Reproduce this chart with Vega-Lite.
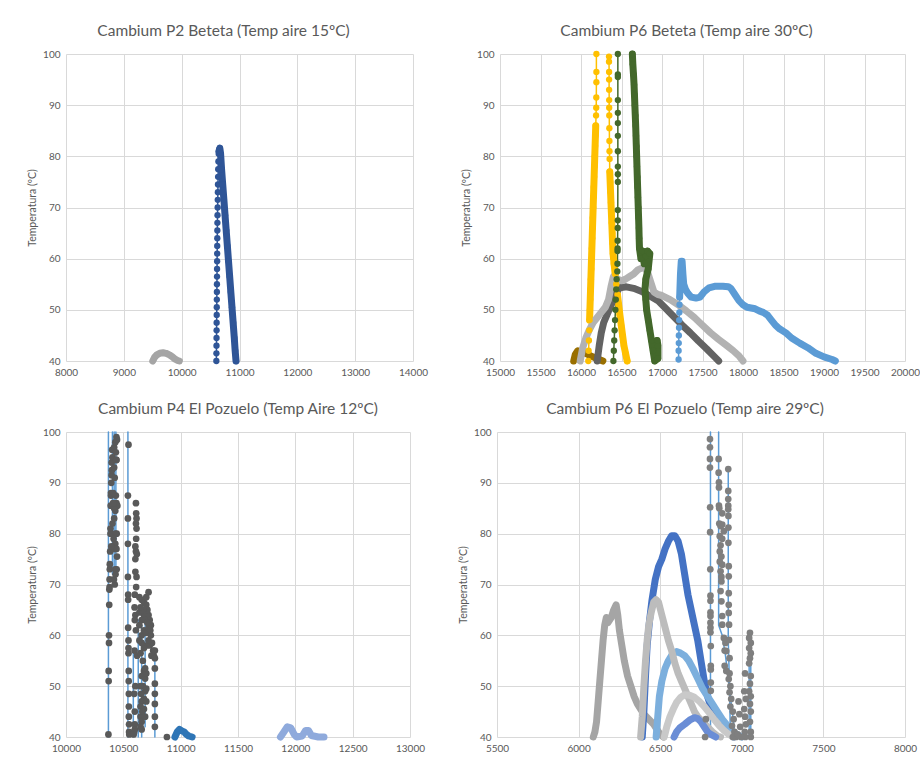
{
"$schema": "https://vega.github.io/schema/vega-lite/v6.json",
"background": "white",
"padding": {"left": 27, "top": 23, "right": 0, "bottom": 0},
"config": {
  "font": "Lato",
  "view": {"stroke": null},
  "axis": {"grid": true, "gridColor": "#d9d9d9", "gridWidth": 1, "domain": false, "ticks": false, "labelColor": "#595959", "labelFontSize": 10, "titleColor": "#595959", "titleFontSize": 10.5, "titleFontWeight": "normal", "labelPadding": 6, "titlePadding": 5, "labelFlush": false, "labelOverlap": false},
  "title": {"fontSize": 15.5, "fontWeight": "normal", "color": "#595959", "offset": 10},
  "line": {"strokeCap": "round", "strokeJoin": "round"}
},
"datasets": {
"p1": [
{"s":"g","x":9500,"y":40},{"s":"g","x":9530,"y":40.7},{"s":"g","x":9570,"y":41.2},{"s":"g","x":9620,"y":41.5},{"s":"g","x":9680,"y":41.6},{"s":"g","x":9730,"y":41.5},{"s":"g","x":9790,"y":41.2},{"s":"g","x":9840,"y":40.8},{"s":"g","x":9880,"y":40.4},{"s":"g","x":9930,"y":40.1},{"s":"g","x":9960,"y":40},
{"s":"b1","x":10600,"y":40},{"s":"b1","x":10601,"y":41.5},{"s":"b1","x":10602,"y":43},{"s":"b1","x":10603,"y":44.5},{"s":"b1","x":10604,"y":46},{"s":"b1","x":10605,"y":47.5},{"s":"b1","x":10606,"y":49},{"s":"b1","x":10607,"y":50.5},{"s":"b1","x":10608,"y":52},{"s":"b1","x":10609,"y":53.5},{"s":"b1","x":10610,"y":55},{"s":"b1","x":10611,"y":56.5},{"s":"b1","x":10612,"y":58},{"s":"b1","x":10613,"y":59.5},{"s":"b1","x":10614,"y":61},{"s":"b1","x":10615,"y":62.5},{"s":"b1","x":10616,"y":64},{"s":"b1","x":10617,"y":65.5},{"s":"b1","x":10618,"y":67},{"s":"b1","x":10620,"y":68.5},{"s":"b1","x":10622,"y":70},{"s":"b1","x":10624,"y":71.5},{"s":"b1","x":10626,"y":73},{"s":"b1","x":10628,"y":74.5},{"s":"b1","x":10630,"y":76},{"s":"b1","x":10632,"y":77.5},{"s":"b1","x":10635,"y":79},{"s":"b1","x":10640,"y":80.5},{"s":"b1","x":10650,"y":81.3},
{"s":"b2","x":10645,"y":81},{"s":"b2","x":10660,"y":81.6},{"s":"b2","x":10673,"y":80.5},{"s":"b2","x":10690,"y":77.5},{"s":"b2","x":10710,"y":74.5},{"s":"b2","x":10730,"y":71.5},{"s":"b2","x":10750,"y":68.5},{"s":"b2","x":10770,"y":65.5},{"s":"b2","x":10790,"y":62.5},{"s":"b2","x":10810,"y":59.5},{"s":"b2","x":10830,"y":56.5},{"s":"b2","x":10850,"y":53.5},{"s":"b2","x":10870,"y":50.5},{"s":"b2","x":10890,"y":47.5},{"s":"b2","x":10910,"y":44.5},{"s":"b2","x":10925,"y":42},{"s":"b2","x":10940,"y":40}
],
"p2": [
{"s":"br","x":15910,"y":40},{"s":"br","x":15930,"y":41.3},{"s":"br","x":15960,"y":42},{"s":"br","x":16000,"y":41.8},{"s":"br","x":16060,"y":41.5},{"s":"br","x":16120,"y":41},{"s":"br","x":16180,"y":40.6},{"s":"br","x":16240,"y":40.2},{"s":"br","x":16270,"y":40},
{"s":"y1","x":16190,"y":100},{"s":"y1","x":16190,"y":96.5},{"s":"y1","x":16190,"y":94.5},{"s":"y1","x":16189,"y":91.5},{"s":"y1","x":16188,"y":89.5},{"s":"y1","x":16186,"y":88},{"s":"y1","x":16182,"y":86},{"s":"y1","x":16178,"y":84},{"s":"y1","x":16174,"y":82},{"s":"y1","x":16170,"y":80},{"s":"y1","x":16166,"y":78},{"s":"y1","x":16162,"y":76},{"s":"y1","x":16158,"y":74},{"s":"y1","x":16154,"y":72},{"s":"y1","x":16150,"y":70},{"s":"y1","x":16146,"y":68},{"s":"y1","x":16142,"y":66},{"s":"y1","x":16138,"y":64},{"s":"y1","x":16134,"y":62},{"s":"y1","x":16130,"y":60},{"s":"y1","x":16126,"y":58},{"s":"y1","x":16122,"y":56},{"s":"y1","x":16118,"y":54},{"s":"y1","x":16114,"y":52},{"s":"y1","x":16110,"y":50},{"s":"y1","x":16106,"y":48},{"s":"y1","x":16102,"y":46},{"s":"y1","x":16098,"y":44},{"s":"y1","x":16094,"y":42},{"s":"y1","x":16090,"y":40},
{"s":"y1t","x":16182,"y":86},{"s":"y1t","x":16166,"y":78},{"s":"y1t","x":16150,"y":70},{"s":"y1t","x":16134,"y":62},{"s":"y1t","x":16118,"y":54},{"s":"y1t","x":16106,"y":48},
{"s":"y2","x":16346,"y":99.5},{"s":"y2","x":16346,"y":98.5},{"s":"y2","x":16347,"y":96.5},{"s":"y2","x":16347,"y":95},{"s":"y2","x":16347,"y":93},{"s":"y2","x":16348,"y":91},{"s":"y2","x":16348,"y":89.5},{"s":"y2","x":16349,"y":88},{"s":"y2","x":16350,"y":85.5},{"s":"y2","x":16351,"y":83},{"s":"y2","x":16352,"y":81},{"s":"y2","x":16353,"y":79.5},{"s":"y2","x":16355,"y":77},{"s":"y2","x":16360,"y":75},{"s":"y2","x":16365,"y":73},{"s":"y2","x":16370,"y":71},{"s":"y2","x":16375,"y":69},{"s":"y2","x":16380,"y":67},{"s":"y2","x":16385,"y":65},{"s":"y2","x":16390,"y":63},{"s":"y2","x":16395,"y":61},{"s":"y2","x":16405,"y":59},{"s":"y2","x":16420,"y":57},{"s":"y2","x":16435,"y":55},{"s":"y2","x":16450,"y":53},{"s":"y2","x":16465,"y":51},{"s":"y2","x":16480,"y":49},{"s":"y2","x":16495,"y":47},{"s":"y2","x":16510,"y":45},{"s":"y2","x":16530,"y":43},{"s":"y2","x":16550,"y":41.5},{"s":"y2","x":16570,"y":40},
{"s":"y2t","x":16355,"y":77},{"s":"y2t","x":16375,"y":69},{"s":"y2t","x":16395,"y":61},{"s":"y2t","x":16435,"y":55},{"s":"y2t","x":16480,"y":49},{"s":"y2t","x":16530,"y":43},{"s":"y2t","x":16570,"y":40},
{"s":"gt","x":16455,"y":100},{"s":"gt","x":16455,"y":96},{"s":"gt","x":16455,"y":95.5},{"s":"gt","x":16455,"y":91},{"s":"gt","x":16455,"y":88.5},{"s":"gt","x":16455,"y":86.5},{"s":"gt","x":16455,"y":84},{"s":"gt","x":16455,"y":81},{"s":"gt","x":16455,"y":78},{"s":"gt","x":16455,"y":76.5},{"s":"gt","x":16455,"y":75},{"s":"gt","x":16454,"y":69.5},{"s":"gt","x":16454,"y":67.5},{"s":"gt","x":16453,"y":66},{"s":"gt","x":16452,"y":63.5},{"s":"gt","x":16452,"y":62},{"s":"gt","x":16451,"y":61.5},{"s":"gt","x":16450,"y":59},{"s":"gt","x":16448,"y":57.5},{"s":"gt","x":16440,"y":56},{"s":"gt","x":16435,"y":54},{"s":"gt","x":16430,"y":52},{"s":"gt","x":16425,"y":50},{"s":"gt","x":16420,"y":48},{"s":"gt","x":16415,"y":46},{"s":"gt","x":16410,"y":44},{"s":"gt","x":16405,"y":42},{"s":"gt","x":16400,"y":40},
{"s":"dg","x":16200,"y":40},{"s":"dg","x":16225,"y":43},{"s":"dg","x":16250,"y":45.5},{"s":"dg","x":16280,"y":47.5},{"s":"dg","x":16320,"y":49},{"s":"dg","x":16360,"y":50.5},{"s":"dg","x":16400,"y":52},{"s":"dg","x":16440,"y":53.5},{"s":"dg","x":16480,"y":54.3},{"s":"dg","x":16560,"y":54.5},{"s":"dg","x":16650,"y":54.2},{"s":"dg","x":16750,"y":53.6},{"s":"dg","x":16850,"y":52.7},{"s":"dg","x":16950,"y":51.8},{"s":"dg","x":17050,"y":50.2},{"s":"dg","x":17150,"y":48.6},{"s":"dg","x":17250,"y":47},{"s":"dg","x":17350,"y":45.5},{"s":"dg","x":17450,"y":43.9},{"s":"dg","x":17550,"y":42.4},{"s":"dg","x":17650,"y":40.8},{"s":"dg","x":17700,"y":40},
{"s":"lg","x":15990,"y":40},{"s":"lg","x":16020,"y":42.5},{"s":"lg","x":16060,"y":44.5},{"s":"lg","x":16100,"y":46},{"s":"lg","x":16150,"y":47.5},{"s":"lg","x":16200,"y":48.5},{"s":"lg","x":16250,"y":49.5},{"s":"lg","x":16300,"y":50.5},{"s":"lg","x":16340,"y":52},{"s":"lg","x":16370,"y":54.5},{"s":"lg","x":16400,"y":56.5},{"s":"lg","x":16450,"y":56},{"s":"lg","x":16500,"y":55.7},{"s":"lg","x":16550,"y":56},{"s":"lg","x":16600,"y":56.5},{"s":"lg","x":16650,"y":57},{"s":"lg","x":16700,"y":57.8},{"s":"lg","x":16770,"y":58.3},{"s":"lg","x":16820,"y":57.5},{"s":"lg","x":16860,"y":55.5},{"s":"lg","x":16900,"y":53.5},{"s":"lg","x":16950,"y":53},{"s":"lg","x":17000,"y":52.8},{"s":"lg","x":17100,"y":52},{"s":"lg","x":17200,"y":51},{"s":"lg","x":17300,"y":49.8},{"s":"lg","x":17400,"y":48.5},{"s":"lg","x":17500,"y":47},{"s":"lg","x":17600,"y":45.5},{"s":"lg","x":17700,"y":44.2},{"s":"lg","x":17800,"y":43},{"s":"lg","x":17880,"y":42},{"s":"lg","x":17950,"y":41},{"s":"lg","x":18000,"y":40},
{"s":"lbd","x":17205,"y":40.3},{"s":"lbd","x":17205,"y":42},{"s":"lbd","x":17207,"y":43.5},{"s":"lbd","x":17208,"y":45},{"s":"lbd","x":17210,"y":46.5},{"s":"lbd","x":17212,"y":48},{"s":"lbd","x":17214,"y":49.5},{"s":"lbd","x":17216,"y":51},{"s":"lbd","x":17218,"y":52.5},
{"s":"lb","x":17218,"y":52.5},{"s":"lb","x":17228,"y":57},{"s":"lb","x":17238,"y":59.5},{"s":"lb","x":17248,"y":59.5},{"s":"lb","x":17258,"y":57},{"s":"lb","x":17268,"y":55},{"s":"lb","x":17290,"y":54},{"s":"lb","x":17320,"y":53.2},{"s":"lb","x":17360,"y":52.5},{"s":"lb","x":17420,"y":52.3},{"s":"lb","x":17470,"y":52.5},{"s":"lb","x":17520,"y":53.5},{"s":"lb","x":17580,"y":54.3},{"s":"lb","x":17650,"y":54.6},{"s":"lb","x":17750,"y":54.6},{"s":"lb","x":17820,"y":54.5},{"s":"lb","x":17850,"y":54.2},{"s":"lb","x":17900,"y":53},{"s":"lb","x":17950,"y":51.8},{"s":"lb","x":18000,"y":51},{"s":"lb","x":18050,"y":50.5},{"s":"lb","x":18150,"y":50.2},{"s":"lb","x":18200,"y":49.8},{"s":"lb","x":18250,"y":49.5},{"s":"lb","x":18300,"y":49},{"s":"lb","x":18350,"y":48},{"s":"lb","x":18400,"y":47},{"s":"lb","x":18450,"y":46.3},{"s":"lb","x":18530,"y":45.5},{"s":"lb","x":18600,"y":44.5},{"s":"lb","x":18700,"y":43.5},{"s":"lb","x":18800,"y":42.6},{"s":"lb","x":18900,"y":41.5},{"s":"lb","x":19000,"y":40.8},{"s":"lb","x":19100,"y":40.3},{"s":"lb","x":19140,"y":40},
{"s":"g2","x":16634,"y":100},{"s":"g2","x":16640,"y":98},{"s":"g2","x":16648,"y":96},{"s":"g2","x":16655,"y":94},{"s":"g2","x":16660,"y":92},{"s":"g2","x":16665,"y":90},{"s":"g2","x":16670,"y":88},{"s":"g2","x":16675,"y":86},{"s":"g2","x":16679,"y":84},{"s":"g2","x":16683,"y":82},{"s":"g2","x":16687,"y":80},{"s":"g2","x":16691,"y":78},{"s":"g2","x":16695,"y":76},{"s":"g2","x":16699,"y":74},{"s":"g2","x":16703,"y":72},{"s":"g2","x":16707,"y":70},{"s":"g2","x":16711,"y":68},{"s":"g2","x":16715,"y":66},{"s":"g2","x":16718,"y":64},{"s":"g2","x":16722,"y":62},{"s":"g2","x":16740,"y":60},{"s":"g2","x":16760,"y":61.5},{"s":"g2","x":16780,"y":59},{"s":"g2","x":16800,"y":60.5},{"s":"g2","x":16820,"y":61.5},{"s":"g2","x":16850,"y":61},{"s":"g2","x":16830,"y":58},{"s":"g2","x":16800,"y":56},{"s":"g2","x":16790,"y":54},{"s":"g2","x":16800,"y":52},{"s":"g2","x":16810,"y":50},{"s":"g2","x":16830,"y":48},{"s":"g2","x":16850,"y":46},{"s":"g2","x":16870,"y":44},{"s":"g2","x":16890,"y":42},{"s":"g2","x":16910,"y":40},{"s":"g2","x":16950,"y":40.5},{"s":"g2","x":16950,"y":43},{"s":"g2","x":16940,"y":44}
],
"p3": [
{"s":"v1","x":10370,"y":40},{"s":"v1","x":10370,"y":100},
{"s":"v2","x":10405,"y":72},{"s":"v2","x":10405,"y":100},
{"s":"v3","x":10420,"y":70},{"s":"v3","x":10420,"y":100},
{"s":"v4","x":10435,"y":73},{"s":"v4","x":10435,"y":100},
{"s":"v5","x":10540,"y":40},{"s":"v5","x":10540,"y":100},
{"s":"v6","x":10587,"y":40},{"s":"v6","x":10587,"y":57},
{"s":"v7","x":10630,"y":40},{"s":"v7","x":10630,"y":63},
{"s":"v8","x":10660,"y":40},{"s":"v8","x":10660,"y":62},
{"s":"v9","x":10690,"y":42},{"s":"v9","x":10690,"y":63},
{"s":"v10","x":10775,"y":40},{"s":"v10","x":10775,"y":57},
{"s":"bh","x":10950,"y":40},{"s":"bh","x":10970,"y":41},{"s":"bh","x":10990,"y":41.5},{"s":"bh","x":11010,"y":41.2},{"s":"bh","x":11030,"y":41},{"s":"bh","x":11050,"y":40.5},{"s":"bh","x":11070,"y":40.2},{"s":"bh","x":11100,"y":40},
{"s":"lbh","x":11870,"y":40},{"s":"lbh","x":11900,"y":41},{"s":"lbh","x":11930,"y":42},{"s":"lbh","x":11960,"y":41.8},{"s":"lbh","x":11990,"y":40.5},{"s":"lbh","x":12010,"y":40},{"s":"lbh","x":12060,"y":40.2},{"s":"lbh","x":12090,"y":41.3},{"s":"lbh","x":12115,"y":41.3},{"s":"lbh","x":12140,"y":40.3},{"s":"lbh","x":12200,"y":40},{"s":"lbh","x":12250,"y":40},
{"s":"gd","x":10370,"y":40.5},{"s":"gd","x":10372,"y":51},{"s":"gd","x":10372,"y":53},{"s":"gd","x":10375,"y":58.5},{"s":"gd","x":10375,"y":60},{"s":"gd","x":10377,"y":66},{"s":"gd","x":10378,"y":69},{"s":"gd","x":10380,"y":69.5},{"s":"gd","x":10380,"y":71},{"s":"gd","x":10382,"y":73},{"s":"gd","x":10382,"y":74},{"s":"gd","x":10385,"y":76.5},{"s":"gd","x":10388,"y":80},{"s":"gd","x":10388,"y":81},{"s":"gd","x":10390,"y":85.5},{"s":"gd","x":10392,"y":87.5},{"s":"gd","x":10392,"y":88},{"s":"gd","x":10395,"y":90},{"s":"gd","x":10398,"y":91.5},{"s":"gd","x":10400,"y":92.5},{"s":"gd","x":10398,"y":94},{"s":"gd","x":10405,"y":95},{"s":"gd","x":10402,"y":96.5},{"s":"gd","x":10420,"y":97},{"s":"gd","x":10430,"y":98},{"s":"gd","x":10440,"y":99},{"s":"gd","x":10445,"y":98.5},{"s":"gd","x":10435,"y":96},{"s":"gd","x":10440,"y":94.5},{"s":"gd","x":10420,"y":93},{"s":"gd","x":10435,"y":87.5},{"s":"gd","x":10440,"y":86},{"s":"gd","x":10448,"y":85.5},{"s":"gd","x":10430,"y":84.5},{"s":"gd","x":10420,"y":83},{"s":"gd","x":10430,"y":80},{"s":"gd","x":10442,"y":80},{"s":"gd","x":10430,"y":78},{"s":"gd","x":10425,"y":77},{"s":"gd","x":10440,"y":77},{"s":"gd","x":10445,"y":75.5},{"s":"gd","x":10430,"y":73},{"s":"gd","x":10442,"y":73},{"s":"gd","x":10432,"y":72},{"s":"gd","x":10425,"y":70},{"s":"gd","x":10418,"y":71},{"s":"gd","x":10420,"y":85},{"s":"gd","x":10412,"y":88},{"s":"gd","x":10425,"y":91},{"s":"gd","x":10438,"y":94.5},{"s":"gd","x":10410,"y":86},{"s":"gd","x":10405,"y":82},{"s":"gd","x":10415,"y":79},{"s":"gd","x":10395,"y":77.5},
{"s":"gd","x":10545,"y":97.5},{"s":"gd","x":10540,"y":87.5},{"s":"gd","x":10540,"y":83},{"s":"gd","x":10540,"y":78},{"s":"gd","x":10540,"y":71.5},{"s":"gd","x":10542,"y":68},{"s":"gd","x":10542,"y":67},{"s":"gd","x":10542,"y":61.5},{"s":"gd","x":10545,"y":59},{"s":"gd","x":10545,"y":57.5},{"s":"gd","x":10545,"y":56.5},{"s":"gd","x":10547,"y":53},{"s":"gd","x":10547,"y":51},{"s":"gd","x":10548,"y":48.5},{"s":"gd","x":10548,"y":46},{"s":"gd","x":10548,"y":44},{"s":"gd","x":10550,"y":42.5},{"s":"gd","x":10550,"y":41},{"s":"gd","x":10552,"y":40.5},
{"s":"gd","x":10610,"y":86},{"s":"gd","x":10612,"y":84},{"s":"gd","x":10615,"y":83},{"s":"gd","x":10610,"y":82},{"s":"gd","x":10615,"y":81},{"s":"gd","x":10612,"y":79},{"s":"gd","x":10605,"y":77.5},{"s":"gd","x":10610,"y":76.5},{"s":"gd","x":10618,"y":76},{"s":"gd","x":10605,"y":75},{"s":"gd","x":10605,"y":72.5},{"s":"gd","x":10615,"y":71.5},{"s":"gd","x":10612,"y":69.5},{"s":"gd","x":10600,"y":68},{"s":"gd","x":10598,"y":65.5},{"s":"gd","x":10605,"y":64},{"s":"gd","x":10600,"y":63},{"s":"gd","x":10610,"y":61},{"s":"gd","x":10598,"y":57},{"s":"gd","x":10605,"y":50},{"s":"gd","x":10600,"y":42.5},{"s":"gd","x":10600,"y":41.5},{"s":"gd","x":10595,"y":41},{"s":"gd","x":10590,"y":40.5},{"s":"gd","x":10620,"y":56},{"s":"gd","x":10595,"y":48.5},{"s":"gd","x":10600,"y":45},
{"s":"gd","x":10640,"y":67.5},{"s":"gd","x":10660,"y":67},{"s":"gd","x":10680,"y":66.5},{"s":"gd","x":10700,"y":67.5},{"s":"gd","x":10720,"y":68.5},{"s":"gd","x":10700,"y":66},{"s":"gd","x":10680,"y":64},{"s":"gd","x":10660,"y":63},{"s":"gd","x":10640,"y":62},{"s":"gd","x":10660,"y":60},{"s":"gd","x":10680,"y":61},{"s":"gd","x":10700,"y":60.5},{"s":"gd","x":10720,"y":61.5},{"s":"gd","x":10740,"y":60},{"s":"gd","x":10730,"y":58},{"s":"gd","x":10750,"y":58.5},{"s":"gd","x":10760,"y":57},{"s":"gd","x":10765,"y":56},{"s":"gd","x":10700,"y":58},{"s":"gd","x":10680,"y":57.5},{"s":"gd","x":10660,"y":58.5},{"s":"gd","x":10640,"y":59},{"s":"gd","x":10650,"y":56.5},{"s":"gd","x":10670,"y":55},{"s":"gd","x":10680,"y":53},{"s":"gd","x":10660,"y":52},{"s":"gd","x":10650,"y":50},{"s":"gd","x":10670,"y":50},{"s":"gd","x":10690,"y":51.5},{"s":"gd","x":10700,"y":52.5},{"s":"gd","x":10690,"y":49},{"s":"gd","x":10680,"y":47.5},{"s":"gd","x":10660,"y":47},{"s":"gd","x":10650,"y":46},{"s":"gd","x":10650,"y":44},{"s":"gd","x":10660,"y":43},{"s":"gd","x":10650,"y":42},{"s":"gd","x":10660,"y":41.5},{"s":"gd","x":10690,"y":44},{"s":"gd","x":10700,"y":47},{"s":"gd","x":10680,"y":45.5},{"s":"gd","x":10640,"y":64.5},{"s":"gd","x":10720,"y":64},{"s":"gd","x":10730,"y":63},{"s":"gd","x":10740,"y":62},{"s":"gd","x":10710,"y":65},{"s":"gd","x":10690,"y":63},{"s":"gd","x":10670,"y":65},{"s":"gd","x":10650,"y":65.5},{"s":"gd","x":10720,"y":59},{"s":"gd","x":10745,"y":56},{"s":"gd","x":10735,"y":61},{"s":"gd","x":10710,"y":62.5},{"s":"gd","x":10700,"y":49.5},{"s":"gd","x":10690,"y":53.5},{"s":"gd","x":10655,"y":48.5},{"s":"gd","x":10665,"y":45},
{"s":"gd","x":10775,"y":57},{"s":"gd","x":10775,"y":55.5},{"s":"gd","x":10775,"y":53.5},{"s":"gd","x":10775,"y":50.5},{"s":"gd","x":10775,"y":48.5},{"s":"gd","x":10775,"y":46.5},{"s":"gd","x":10775,"y":44},{"s":"gd","x":10775,"y":42},{"s":"gd","x":10880,"y":40}
],
"p4": [
{"s":"w1","x":6808,"y":40},{"s":"w1","x":6808,"y":100},
{"s":"w2","x":6858,"y":100},{"s":"w2","x":6858,"y":62},{"s":"w2","x":6880,"y":60},{"s":"w2","x":6900,"y":56},{"s":"w2","x":6930,"y":48},{"s":"w2","x":6960,"y":40},
{"s":"w3","x":6917,"y":92.7},{"s":"w3","x":6917,"y":59},{"s":"w3","x":6925,"y":50},{"s":"w3","x":6930,"y":40},
{"s":"w4","x":7045,"y":60},{"s":"w4","x":7045,"y":40},
{"s":"w5","x":7055,"y":60},{"s":"w5","x":7055,"y":40},
{"s":"ga","x":6090,"y":40},{"s":"ga","x":6100,"y":41},{"s":"ga","x":6110,"y":43},{"s":"ga","x":6120,"y":47},{"s":"ga","x":6130,"y":51},{"s":"ga","x":6140,"y":55},{"s":"ga","x":6150,"y":59},{"s":"ga","x":6160,"y":62},{"s":"ga","x":6170,"y":63.5},{"s":"ga","x":6180,"y":62.5},{"s":"ga","x":6190,"y":63},{"s":"ga","x":6200,"y":63.5},{"s":"ga","x":6215,"y":65},{"s":"ga","x":6230,"y":66},{"s":"ga","x":6240,"y":64},{"s":"ga","x":6250,"y":61},{"s":"ga","x":6265,"y":58},{"s":"ga","x":6280,"y":55},{"s":"ga","x":6300,"y":52},{"s":"ga","x":6320,"y":50},{"s":"ga","x":6340,"y":48},{"s":"ga","x":6360,"y":46.5},{"s":"ga","x":6380,"y":45.5},{"s":"ga","x":6400,"y":44.5},{"s":"ga","x":6430,"y":43.5},{"s":"ga","x":6460,"y":42.5},{"s":"ga","x":6480,"y":41.5},{"s":"ga","x":6500,"y":40.5},{"s":"ga","x":6520,"y":40},
{"s":"bm","x":6390,"y":40},{"s":"bm","x":6400,"y":45},{"s":"bm","x":6410,"y":52},{"s":"bm","x":6420,"y":58},{"s":"bm","x":6435,"y":63},{"s":"bm","x":6450,"y":67},{"s":"bm","x":6470,"y":71},{"s":"bm","x":6490,"y":73.5},{"s":"bm","x":6510,"y":75},{"s":"bm","x":6530,"y":77},{"s":"bm","x":6550,"y":78.5},{"s":"bm","x":6570,"y":79.6},{"s":"bm","x":6590,"y":79.6},{"s":"bm","x":6610,"y":78.5},{"s":"bm","x":6630,"y":76},{"s":"bm","x":6650,"y":72},{"s":"bm","x":6670,"y":68},{"s":"bm","x":6690,"y":65},{"s":"bm","x":6710,"y":62},{"s":"bm","x":6730,"y":59},{"s":"bm","x":6750,"y":55},{"s":"bm","x":6770,"y":51},{"s":"bm","x":6790,"y":48},{"s":"bm","x":6810,"y":46},{"s":"bm","x":6840,"y":44},{"s":"bm","x":6870,"y":42.5},{"s":"bm","x":6900,"y":41.5},{"s":"bm","x":6930,"y":40.5},{"s":"bm","x":6950,"y":40},
{"s":"lbl","x":6475,"y":40},{"s":"lbl","x":6485,"y":44},{"s":"lbl","x":6495,"y":48},{"s":"lbl","x":6510,"y":51},{"s":"lbl","x":6530,"y":53.5},{"s":"lbl","x":6550,"y":55},{"s":"lbl","x":6575,"y":56.3},{"s":"lbl","x":6600,"y":56.8},{"s":"lbl","x":6625,"y":56.5},{"s":"lbl","x":6650,"y":56},{"s":"lbl","x":6675,"y":55},{"s":"lbl","x":6700,"y":53.5},{"s":"lbl","x":6730,"y":51.5},{"s":"lbl","x":6760,"y":49.5},{"s":"lbl","x":6790,"y":48},{"s":"lbl","x":6820,"y":46.5},{"s":"lbl","x":6850,"y":45},{"s":"lbl","x":6880,"y":43.5},{"s":"lbl","x":6910,"y":42.3},{"s":"lbl","x":6940,"y":41.2},{"s":"lbl","x":6970,"y":40.5},{"s":"lbl","x":7000,"y":40},
{"s":"lgr","x":6380,"y":40},{"s":"lgr","x":6390,"y":44},{"s":"lgr","x":6400,"y":50},{"s":"lgr","x":6410,"y":55},{"s":"lgr","x":6420,"y":59},{"s":"lgr","x":6430,"y":62},{"s":"lgr","x":6445,"y":64.5},{"s":"lgr","x":6460,"y":66.5},{"s":"lgr","x":6475,"y":67},{"s":"lgr","x":6490,"y":66.5},{"s":"lgr","x":6510,"y":64},{"s":"lgr","x":6530,"y":61.5},{"s":"lgr","x":6550,"y":59},{"s":"lgr","x":6570,"y":57},{"s":"lgr","x":6590,"y":54.5},{"s":"lgr","x":6610,"y":52.5},{"s":"lgr","x":6630,"y":51},{"s":"lgr","x":6650,"y":49.5},{"s":"lgr","x":6670,"y":48},{"s":"lgr","x":6690,"y":46.5},{"s":"lgr","x":6710,"y":45},{"s":"lgr","x":6730,"y":44},{"s":"lgr","x":6760,"y":43},{"s":"lgr","x":6790,"y":42},{"s":"lgr","x":6820,"y":41},{"s":"lgr","x":6850,"y":40.2},{"s":"lgr","x":6870,"y":40},
{"s":"vb","x":6585,"y":40},{"s":"vb","x":6600,"y":41},{"s":"vb","x":6620,"y":41.8},{"s":"vb","x":6650,"y":42.5},{"s":"vb","x":6680,"y":43.3},{"s":"vb","x":6710,"y":43.8},{"s":"vb","x":6730,"y":43.6},{"s":"vb","x":6750,"y":43},{"s":"vb","x":6770,"y":42},{"s":"vb","x":6790,"y":41},{"s":"vb","x":6810,"y":40.5},{"s":"vb","x":6840,"y":40},
{"s":"lgr2","x":6525,"y":40},{"s":"lgr2","x":6540,"y":42},{"s":"lgr2","x":6560,"y":44},{"s":"lgr2","x":6580,"y":45.5},{"s":"lgr2","x":6600,"y":46.8},{"s":"lgr2","x":6625,"y":47.8},{"s":"lgr2","x":6650,"y":48.3},{"s":"lgr2","x":6680,"y":48.2},{"s":"lgr2","x":6710,"y":47.8},{"s":"lgr2","x":6740,"y":47},{"s":"lgr2","x":6770,"y":46},{"s":"lgr2","x":6800,"y":44.8},{"s":"lgr2","x":6830,"y":43.5},{"s":"lgr2","x":6860,"y":42.3},{"s":"lgr2","x":6890,"y":41.3},{"s":"lgr2","x":6920,"y":40.5},{"s":"lgr2","x":6950,"y":40},
{"s":"gd","x":6805,"y":98.6},{"s":"gd","x":6805,"y":97},{"s":"gd","x":6805,"y":94.7},{"s":"gd","x":6805,"y":93},{"s":"gd","x":6806,"y":85.2},{"s":"gd","x":6806,"y":80.3},{"s":"gd","x":6807,"y":73},{"s":"gd","x":6808,"y":67.8},{"s":"gd","x":6808,"y":66.8},{"s":"gd","x":6808,"y":64.5},{"s":"gd","x":6808,"y":63.8},{"s":"gd","x":6808,"y":62.5},{"s":"gd","x":6808,"y":61.5},{"s":"gd","x":6808,"y":60.6},{"s":"gd","x":6810,"y":57.9},{"s":"gd","x":6810,"y":54},{"s":"gd","x":6810,"y":53.3},{"s":"gd","x":6810,"y":50.7},{"s":"gd","x":6810,"y":49.1},{"s":"gd","x":6780,"y":43.5},{"s":"gd","x":6775,"y":40},
{"s":"gd","x":6858,"y":94.7},{"s":"gd","x":6858,"y":92},{"s":"gd","x":6860,"y":90.1},{"s":"gd","x":6860,"y":89.1},{"s":"gd","x":6860,"y":85.5},{"s":"gd","x":6862,"y":85},{"s":"gd","x":6862,"y":82},{"s":"gd","x":6870,"y":81.5},{"s":"gd","x":6880,"y":81.8},{"s":"gd","x":6865,"y":79.5},{"s":"gd","x":6880,"y":79},{"s":"gd","x":6870,"y":77.7},{"s":"gd","x":6865,"y":76.5},{"s":"gd","x":6875,"y":75.5},{"s":"gd","x":6865,"y":74.5},{"s":"gd","x":6880,"y":73.9},{"s":"gd","x":6870,"y":72.6},{"s":"gd","x":6875,"y":70.6},{"s":"gd","x":6870,"y":68.7},{"s":"gd","x":6875,"y":66.7},{"s":"gd","x":6880,"y":63.8},{"s":"gd","x":6880,"y":62.1},{"s":"gd","x":6890,"y":59.5},{"s":"gd","x":6900,"y":58.5},{"s":"gd","x":6895,"y":57},{"s":"gd","x":6905,"y":56.9},{"s":"gd","x":6895,"y":54},{"s":"gd","x":6905,"y":53},{"s":"gd","x":6920,"y":51.4},{"s":"gd","x":6930,"y":50},{"s":"gd","x":6925,"y":48.8},{"s":"gd","x":6935,"y":47.5},{"s":"gd","x":6930,"y":46},{"s":"gd","x":6945,"y":45},{"s":"gd","x":6950,"y":43.5},{"s":"gd","x":6940,"y":42.2},{"s":"gd","x":6955,"y":41},{"s":"gd","x":6965,"y":40},{"s":"gd","x":6945,"y":40},{"s":"gd","x":6880,"y":84},{"s":"gd","x":6890,"y":80.5},{"s":"gd","x":6875,"y":71.5},
{"s":"gd","x":6917,"y":92.7},{"s":"gd","x":6917,"y":88.4},{"s":"gd","x":6917,"y":86.8},{"s":"gd","x":6917,"y":85.5},{"s":"gd","x":6917,"y":84.8},{"s":"gd","x":6918,"y":83.5},{"s":"gd","x":6918,"y":81.2},{"s":"gd","x":6918,"y":78.2},{"s":"gd","x":6920,"y":73.6},{"s":"gd","x":6920,"y":71.6},{"s":"gd","x":6920,"y":68.3},{"s":"gd","x":6920,"y":66},{"s":"gd","x":6920,"y":64.4},{"s":"gd","x":6922,"y":62.1},{"s":"gd","x":6922,"y":59.1},{"s":"gd","x":6925,"y":55.5},{"s":"gd","x":6925,"y":52.5},
{"s":"gd","x":7050,"y":60.5},{"s":"gd","x":7045,"y":59.5},{"s":"gd","x":7055,"y":58.5},{"s":"gd","x":7045,"y":57.5},{"s":"gd","x":7055,"y":56.5},{"s":"gd","x":7050,"y":55.5},{"s":"gd","x":7045,"y":54.5},{"s":"gd","x":7055,"y":52},{"s":"gd","x":7050,"y":50.5},{"s":"gd","x":7045,"y":49},{"s":"gd","x":7055,"y":48},{"s":"gd","x":7050,"y":46.5},{"s":"gd","x":7055,"y":45},{"s":"gd","x":7050,"y":43},{"s":"gd","x":7055,"y":41},{"s":"gd","x":7055,"y":40},{"s":"gd","x":7020,"y":52.5},{"s":"gd","x":7015,"y":49},{"s":"gd","x":7025,"y":47.5},{"s":"gd","x":7015,"y":45.5},{"s":"gd","x":7020,"y":44},{"s":"gd","x":7025,"y":42.5},{"s":"gd","x":7018,"y":41},{"s":"gd","x":7022,"y":40},{"s":"gd","x":6980,"y":47},{"s":"gd","x":6985,"y":44.5},{"s":"gd","x":6990,"y":42},{"s":"gd","x":6975,"y":40.5},{"s":"gd","x":6995,"y":40}
]
},
"vconcat": [
{"hconcat": [
{"width": 347, "height": 307, "title": {"text": "Cambium P2 Beteta (Temp aire 15ºC)", "dx": -16}, "data": {"name": "p1"},
 "encoding": {
  "x": {"field": "x", "type": "quantitative", "scale": {"domain": [8000, 14000], "nice": false, "zero": false}, "axis": {"values": [8000,9000,10000,11000,12000,13000,14000], "format": "d", "title": null}},
  "y": {"field": "y", "type": "quantitative", "scale": {"domain": [40, 100], "nice": false, "zero": false}, "axis": {"values": [40,50,60,70,80,90,100], "title": "Temperatura (ºC)"}},
  "color": {"field": "s", "type": "nominal", "scale": {"domain": ["g","b1","b2"], "range": ["#a5a5a5","#2f5597","#2f5597"]}, "legend": null},
  "order": {"value": null}
 },
 "layer": [
  {"transform": [{"filter": {"field": "s", "oneOf": ["b1"]}}], "mark": {"type": "line", "strokeWidth": 1.5}},
  {"transform": [{"filter": {"field": "s", "oneOf": ["g","b2"]}}], "mark": {"type": "line", "strokeWidth": 7}},
  {"transform": [{"filter": {"field": "s", "oneOf": ["b1","b2"]}}], "mark": {"type": "circle", "size": 40, "opacity": 1}}
 ]
},
{"width": 405, "height": 307, "title": {"text": "Cambium P6 Beteta (Temp aire 30ºC)", "dx": -16}, "data": {"name": "p2"},
 "encoding": {
  "x": {"field": "x", "type": "quantitative", "scale": {"domain": [15000, 20000], "nice": false, "zero": false}, "axis": {"values": [15000,15500,16000,16500,17000,17500,18000,18500,19000,19500,20000], "format": "d", "title": null}},
  "y": {"field": "y", "type": "quantitative", "scale": {"domain": [40, 100], "nice": false, "zero": false}, "axis": {"values": [40,50,60,70,80,90,100], "title": "Temperatura (ºC)"}},
  "color": {"field": "s", "type": "nominal", "scale": {"domain": ["br","y1","y1t","y2","y2t","gt","dg","lg","lbd","lb","g2"], "range": ["#996f00","#ffc000","#ffc000","#ffc000","#ffc000","#43682b","#636363","#b2b2b2","#5b9bd5","#5b9bd5","#43682b"]}, "legend": null},
  "order": {"value": null}
 },
 "layer": [
  {"transform": [{"filter": {"field": "s", "oneOf": ["y1","y2","gt","lbd"]}}], "mark": {"type": "line", "strokeWidth": 1.5}},
  {"transform": [{"filter": {"field": "s", "oneOf": ["br","y1t","y2t","dg","lg","lb","g2"]}}], "mark": {"type": "line", "strokeWidth": 7}},
  {"transform": [{"filter": {"field": "s", "oneOf": ["y1","y2","gt","lbd","g2"]}}], "mark": {"type": "circle", "size": 40, "opacity": 1}}
 ]
}
], "spacing": 33, "resolve": {"scale": {"x": "independent", "y": "independent", "color": "independent"}}},
{"hconcat": [
{"width": 344, "height": 305, "title": "Cambium P4 El Pozuelo (Temp Aire 12ºC)", "data": {"name": "p3"},
 "encoding": {
  "x": {"field": "x", "type": "quantitative", "scale": {"domain": [10000, 13000], "nice": false, "zero": false}, "axis": {"values": [10000,10500,11000,11500,12000,12500,13000], "format": "d", "title": null}},
  "y": {"field": "y", "type": "quantitative", "scale": {"domain": [40, 100], "nice": false, "zero": false}, "axis": {"values": [40,50,60,70,80,90,100], "title": "Temperatura (ºC)"}},
  "color": {"field": "s", "type": "nominal", "scale": {"domain": ["v1","v2","v3","v4","v5","v6","v7","v8","v9","v10","bh","lbh","gd"], "range": ["#5b9bd5","#5b9bd5","#5b9bd5","#5b9bd5","#5b9bd5","#5b9bd5","#5b9bd5","#5b9bd5","#5b9bd5","#5b9bd5","#2e75b6","#8faadc","#595959"]}, "legend": null},
  "order": {"value": null}
 },
 "layer": [
  {"transform": [{"filter": {"field": "s", "oneOf": ["v1","v2","v3","v4","v5","v6","v7","v8","v9","v10"]}}], "mark": {"type": "line", "strokeWidth": 1.5}},
  {"transform": [{"filter": {"field": "s", "oneOf": ["bh","lbh"]}}], "mark": {"type": "line", "strokeWidth": 7}},
  {"transform": [{"filter": {"field": "s", "oneOf": ["gd"]}}], "mark": {"type": "circle", "size": 45, "opacity": 1}}
 ]
},
{"width": 408, "height": 305, "title": {"text": "Cambium P6 El Pozuelo (Temp aire 29ºC)", "dx": -16}, "data": {"name": "p4"},
 "encoding": {
  "x": {"field": "x", "type": "quantitative", "scale": {"domain": [5500, 8000], "nice": false, "zero": false}, "axis": {"values": [5500,6000,6500,7000,7500,8000], "format": "d", "title": null}},
  "y": {"field": "y", "type": "quantitative", "scale": {"domain": [40, 100], "nice": false, "zero": false}, "axis": {"values": [40,50,60,70,80,90,100], "title": "Temperatura (ºC)"}},
  "color": {"field": "s", "type": "nominal", "scale": {"domain": ["w1","w2","w3","w4","w5","ga","bm","lbl","lgr","vb","lgr2","gd"], "range": ["#5b9bd5","#5b9bd5","#5b9bd5","#5b9bd5","#5b9bd5","#a5a5a5","#4472c4","#7cafdd","#bcbcbc","#6a8dd6","#c9c9c9","#7f7f7f"]}, "legend": null},
  "order": {"value": null}
 },
 "layer": [
  {"transform": [{"filter": {"field": "s", "oneOf": ["w1","w2","w3","w4","w5"]}}], "mark": {"type": "line", "strokeWidth": 1.5}},
  {"transform": [{"filter": {"field": "s", "oneOf": ["ga","bm","lbl","lgr","vb","lgr2"]}}], "mark": {"type": "line", "strokeWidth": 7}},
  {"transform": [{"filter": {"field": "s", "oneOf": ["gd"]}}], "mark": {"type": "circle", "size": 45, "opacity": 1}}
 ]
}
], "spacing": 33, "resolve": {"scale": {"x": "independent", "y": "independent", "color": "independent"}}}
],
"spacing": 24,
"resolve": {"scale": {"x": "independent", "y": "independent", "color": "independent"}}
}
